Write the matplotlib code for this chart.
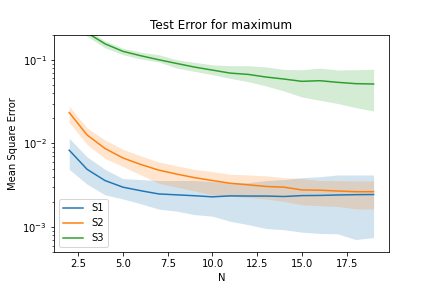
import matplotlib
matplotlib.use("Agg")
import matplotlib.pyplot as plt
import numpy as np

N = list(range(2, 20))

s1_mean = [0.0083, 0.0049, 0.0036, 0.0030, 0.00272, 0.00249, 0.00243, 0.00237, 0.0023,
           0.00236, 0.00235, 0.00235, 0.00232, 0.00238, 0.00239, 0.00242, 0.00244, 0.00245]
s1_low = [0.0049, 0.00325, 0.00243, 0.00217, 0.0019, 0.00164, 0.00155, 0.00141, 0.00135,
          0.00117, 0.00107, 0.00096, 0.00093, 0.00087, 0.00084, 0.00083, 0.00071, 0.00075]
s1_high = [0.0115, 0.0069, 0.0049, 0.0038, 0.0037, 0.0036, 0.0036, 0.0036, 0.0035,
           0.0034, 0.0034, 0.0036, 0.0037, 0.0039, 0.0040, 0.0042, 0.0042, 0.0042]

s2_mean = [0.0234, 0.0126, 0.0087, 0.0067, 0.0056, 0.0048, 0.0043, 0.0039, 0.0036,
           0.00334, 0.0032, 0.00306, 0.0030, 0.00278, 0.00276, 0.0027, 0.00265, 0.00265]
s2_low = [0.0178, 0.0097, 0.0066, 0.0053, 0.0042, 0.00334, 0.0030, 0.0027, 0.00243,
          0.00233, 0.00226, 0.00217, 0.00203, 0.00185, 0.0018, 0.00176, 0.00165, 0.00165]
s2_high = [0.0278, 0.0153, 0.0110, 0.0085, 0.0071, 0.0060, 0.0054, 0.0049, 0.0046,
           0.00428, 0.0042, 0.0041, 0.0039, 0.0038, 0.0036, 0.0036, 0.00356, 0.00356]

s3_mean = [0.30, 0.21, 0.155, 0.126, 0.1116, 0.100, 0.0903, 0.0817, 0.0752,
           0.0692, 0.0668, 0.0621, 0.0588, 0.0552, 0.0562, 0.0537, 0.0518, 0.0513]
s3_low = [0.27, 0.19, 0.139, 0.115, 0.102, 0.094, 0.0795, 0.0726, 0.0663,
          0.0599, 0.0547, 0.0486, 0.0423, 0.0359, 0.0328, 0.0300, 0.0268, 0.0244]
s3_high = [0.33, 0.23, 0.168, 0.137, 0.123, 0.115, 0.100, 0.093, 0.087,
           0.085, 0.085, 0.082, 0.0767, 0.076, 0.0795, 0.0755, 0.076, 0.077]

labels = ["S1", "S2", "S3"]
means = [s1_mean, s2_mean, s3_mean]
lows = [s1_low, s2_low, s3_low]
highs = [s1_high, s2_high, s3_high]

fig, ax = plt.subplots(figsize=(6, 4), dpi=72)
fig.subplots_adjust(left=0.125, right=0.9, top=0.88, bottom=0.124)

for lab, m, lo, hi in zip(labels, means, lows, highs):
    line, = ax.plot(N, m, label=lab)
    ax.fill_between(N, lo, hi, color=line.get_color(), alpha=0.2, linewidth=0)

ax.set_yscale("log")
ax.set_ylim(5e-4, 0.2)
ax.set_title("Test Error for maximum")
ax.set_xlabel("N")
ax.set_ylabel("Mean Square Error")
ax.legend(loc="lower left")

fig.savefig("out.png", dpi=72)
